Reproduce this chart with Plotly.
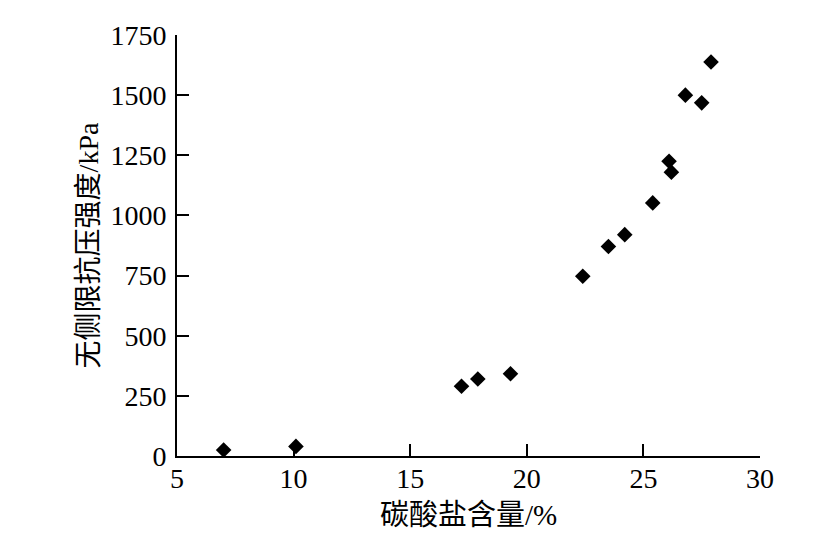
import plotly.graph_objects as go

carbonate = [7.0, 10.1, 17.2, 17.9, 19.3, 22.4, 23.5, 24.2, 25.4, 26.1, 26.2, 26.8, 27.5, 27.9]
strength = [25, 40, 290, 320, 342, 747, 871, 920, 1052, 1225, 1180, 1500, 1468, 1638]

x_ticks = [5, 10, 15, 20, 25, 30]
y_ticks = [0, 250, 500, 750, 1000, 1250, 1500, 1750]

FONT = "Liberation Serif, Times New Roman, Noto Sans CJK SC"

fig = go.Figure()
fig.add_trace(go.Scatter(
    x=carbonate, y=strength, mode="markers",
    marker=dict(symbol="diamond", size=12, color="black"),
    showlegend=False,
))

axis_common = dict(
    showline=True, linecolor="black", linewidth=2,
    ticks="inside", ticklen=12, tickwidth=2, tickcolor="black",
    showgrid=False, zeroline=False, mirror=False,
    tickfont=dict(family=FONT, size=28, color="black"),
)

fig.update_layout(
    width=813, height=548,
    margin=dict(l=169, r=61, t=21, b=100),
    paper_bgcolor="white", plot_bgcolor="white",
    font=dict(family=FONT, color="black"),
    xaxis=dict(
        range=[5, 30], tickvals=x_ticks, ticktext=[str(v) for v in x_ticks],
        title=dict(text="碳酸盐含量/%", font=dict(family=FONT, size=29, color="black"), standoff=12),
        ticklabelstandoff=-4,
        **axis_common,
    ),
    yaxis=dict(
        range=[0, 1750], tickvals=y_ticks, ticktext=[str(v) for v in y_ticks],
        title=dict(text="无侧限抗压强度/kPa", font=dict(family=FONT, size=28, color="black"), standoff=4),
        ticklabelstandoff=3,
        **axis_common,
    ),
)

fig.write_html("out.html")
